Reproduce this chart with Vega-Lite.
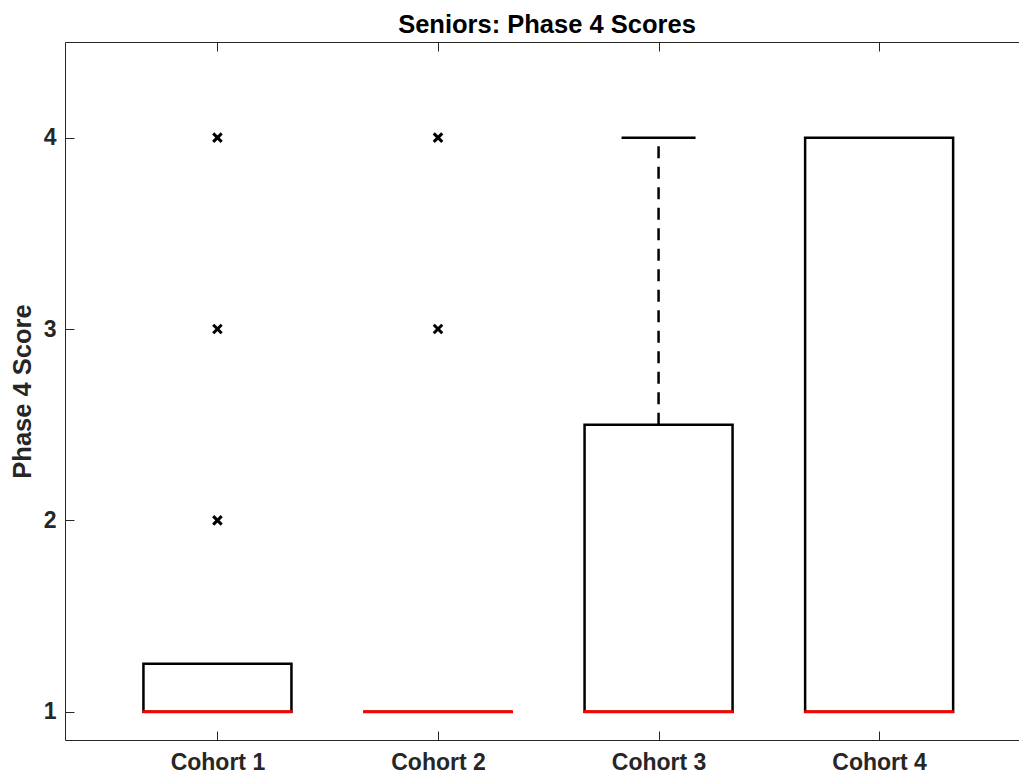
{
  "$schema": "https://vega.github.io/schema/vega-lite/v6.json",
  "width": 954,
  "height": 698,
  "autosize": {"type": "none"},
  "padding": {"left": 65, "top": 42, "right": 0, "bottom": 35},
  "background": "white",
  "config": {"font": "Liberation Sans", "view": {"stroke": null}},
  "title": {"text": "Seniors: Phase 4 Scores", "fontSize": 25.5, "fontWeight": "bold", "color": "#000000", "anchor": "middle", "baseline": "alphabetic", "offset": 11, "dx": 5, "dy": 28},
  "datasets": {
    "boxes": [
      {"cohort": 1, "q1": 1, "q3": 1.25, "median": 1, "whiskerHigh": 1.25},
      {"cohort": 2, "q1": 1, "q3": 1, "median": 1, "whiskerHigh": 1},
      {"cohort": 3, "q1": 1, "q3": 2.5, "median": 1, "whiskerHigh": 4},
      {"cohort": 4, "q1": 1, "q3": 4, "median": 1, "whiskerHigh": 4}
    ],
    "outliers": [
      {"cohort": 1, "score": 2},
      {"cohort": 1, "score": 3},
      {"cohort": 1, "score": 4},
      {"cohort": 2, "score": 3},
      {"cohort": 2, "score": 4}
    ]
  },
  "resolve": {"axis": {"x": "independent", "y": "independent"}},
  "layer": [
    {
      "data": {"name": "boxes"},
      "mark": {"type": "bar", "width": 148, "fill": "white", "stroke": "black", "strokeWidth": 2.5, "strokeJoin": "miter"},
      "encoding": {
        "x": {"field": "cohort", "type": "quantitative", "scale": {"domain": [0.3315, 4.6115], "nice": false, "zero": false},
          "axis": {"orient": "bottom", "values": [1, 2, 3, 4], "labelExpr": "'Cohort ' + datum.value", "tickSize": -9, "labelPadding": 20, "labelFontSize": 23, "labelFontWeight": "bold", "labelColor": "#262626", "domainColor": "#262626", "tickColor": "#262626", "tickWidth": 1, "domainWidth": 1, "grid": false, "title": null, "labelFlush": false, "labelOverlap": false}},
        "y": {"field": "q1", "type": "quantitative", "scale": {"domain": [0.852, 4.5], "nice": false, "zero": false},
          "axis": {"orient": "left", "values": [1, 2, 3, 4], "format": "d", "tickSize": -9, "labelPadding": 18, "labelFontSize": 23, "labelFontWeight": "bold", "labelColor": "#262626", "domainColor": "#262626", "tickColor": "#262626", "tickWidth": 1, "domainWidth": 1, "grid": false, "labelFlush": false, "labelOverlap": false,
            "title": "Phase 4 Score", "titleFontSize": 25.5, "titleFontWeight": "bold", "titleColor": "#262626", "titleAngle": -90, "titleBaseline": "alphabetic", "titleAlign": "center", "titleX": -35, "titleY": 349}},
        "y2": {"field": "q3"}
      }
    },
    {
      "data": {"name": "boxes"},
      "transform": [{"filter": "datum.whiskerHigh > datum.q3"}],
      "mark": {"type": "rule", "stroke": "black", "strokeWidth": 2.5, "strokeDash": [12, 8.5]},
      "encoding": {
        "x": {"field": "cohort", "type": "quantitative", "scale": {"domain": [0.3315, 4.6115], "nice": false, "zero": false}, "axis": null},
        "y": {"field": "q3", "type": "quantitative", "scale": {"domain": [0.852, 4.5], "nice": false, "zero": false}, "axis": null},
        "y2": {"field": "whiskerHigh"}
      }
    },
    {
      "data": {"name": "boxes"},
      "transform": [{"filter": "datum.whiskerHigh > datum.q3"}],
      "mark": {"type": "tick", "orient": "horizontal", "size": 74, "thickness": 2.5, "color": "black", "opacity": 1},
      "encoding": {
        "x": {"field": "cohort", "type": "quantitative", "scale": {"domain": [0.3315, 4.6115], "nice": false, "zero": false}, "axis": null},
        "y": {"field": "whiskerHigh", "type": "quantitative", "scale": {"domain": [0.852, 4.5], "nice": false, "zero": false}, "axis": null}
      }
    },
    {
      "data": {"name": "boxes"},
      "mark": {"type": "tick", "orient": "horizontal", "size": 150, "thickness": 3, "color": "#ff0000", "opacity": 1},
      "encoding": {
        "x": {"field": "cohort", "type": "quantitative", "scale": {"domain": [0.3315, 4.6115], "nice": false, "zero": false},
          "axis": {"orient": "top", "values": [1, 2, 3, 4], "labels": false, "tickSize": -9, "tickColor": "#262626", "tickWidth": 1, "domainColor": "#262626", "domainWidth": 1, "grid": false, "title": null}},
        "y": {"field": "median", "type": "quantitative", "scale": {"domain": [0.852, 4.5], "nice": false, "zero": false}, "axis": null}
      }
    },
    {
      "data": {"name": "outliers"},
      "mark": {"type": "point", "shape": "M-1,-1L1,1M1,-1L-1,1", "size": 72, "filled": false, "stroke": "black", "strokeWidth": 3, "opacity": 1},
      "encoding": {
        "x": {"field": "cohort", "type": "quantitative", "scale": {"domain": [0.3315, 4.6115], "nice": false, "zero": false}, "axis": null},
        "y": {"field": "score", "type": "quantitative", "scale": {"domain": [0.852, 4.5], "nice": false, "zero": false}, "axis": null}
      }
    }
  ]
}
